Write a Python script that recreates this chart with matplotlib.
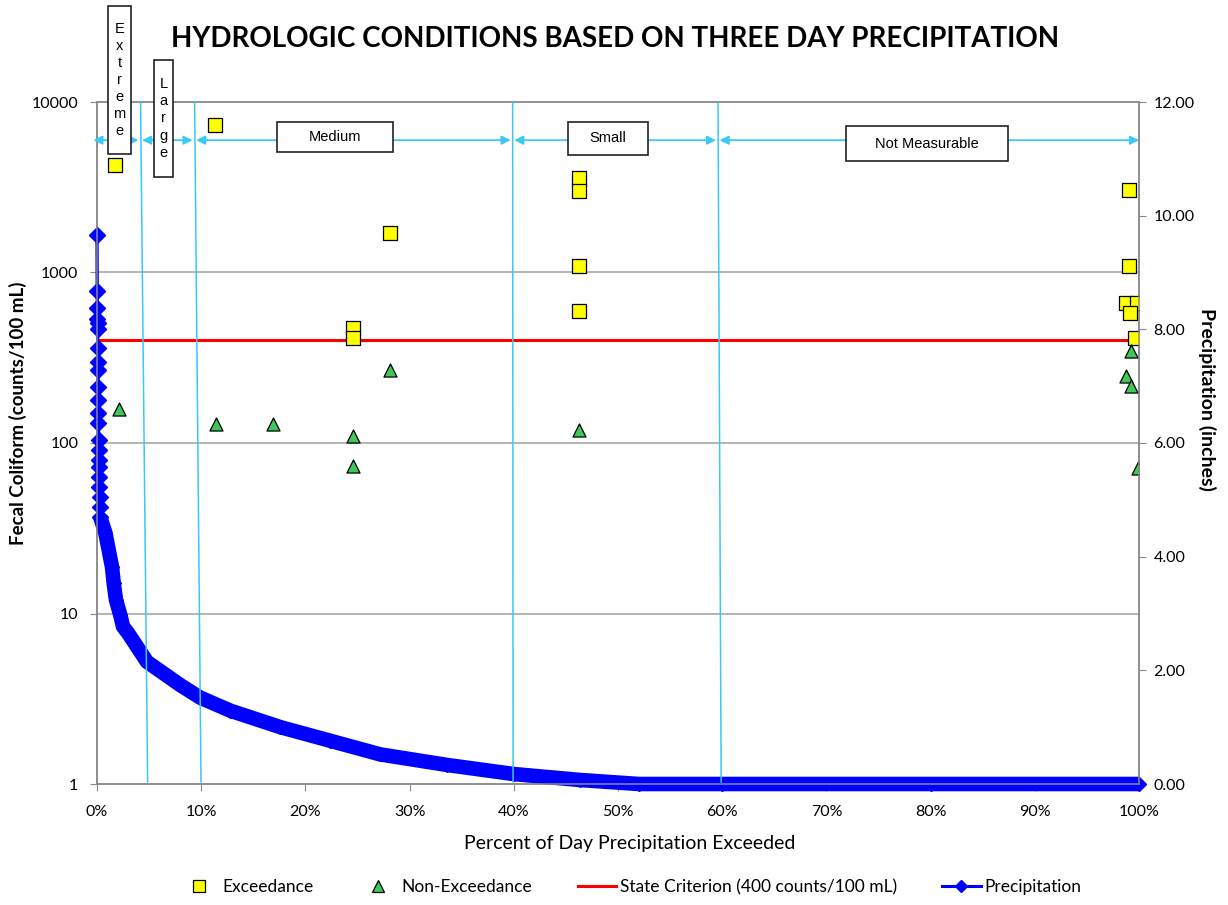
import matplotlib
matplotlib.use('Agg')
from matplotlib import pyplot as plt
from matplotlib.lines import Line2D
from matplotlib.patches import Rectangle
from matplotlib.ticker import FixedLocator, FuncFormatter, NullLocator

# ---- data ----
# Exceedance samples (fecal coliform, counts/100 mL) vs. percent exceeded
exc_pct = [1.7, 11.35, 28.1, 24.56, 24.56, 46.3, 46.3, 46.3, 46.3, 99.0, 99.0, 98.75, 99.8, 99.1, 99.6]
exc_val = [4245, 7300, 1706, 474, 414, 3570, 3006, 1092, 595, 3048, 1095, 660, 660, 581, 415]

# Non-exceedance samples
non_pct = [2.07, 11.4, 16.9, 28.1, 24.56, 24.56, 46.3, 99.2, 98.8, 99.2, 99.9]
non_val = [158, 129, 129, 268, 110, 73, 119, 348, 247, 217, 71]

criterion = 400

# three day precipitation duration curve (inches), head with distinct points
head_pct = [0.0, 0.02, 0.03, 0.04, 0.05, 0.06, 0.07, 0.08, 0.09, 0.10, 0.11,
            0.12, 0.13, 0.15, 0.16, 0.18, 0.19, 0.21, 0.23, 0.25, 0.27, 0.30]
head_in = [9.66, 8.67, 8.37, 8.19, 8.11, 8.00, 7.67, 7.43, 7.28, 6.99, 6.76,
           6.52, 6.35, 6.05, 5.88, 5.70, 5.58, 5.40, 5.23, 5.05, 4.88, 4.70]
# dense part of the curve
band_pct = [0.30, 0.8, 1.44, 1.6, 1.82, 2.24, 2.5, 3.0, 4.8, 8.0, 9.9, 12.8,
            17.6, 22.4, 27.2, 33.6, 40.0, 46.4, 52.0, 60.0, 80.0, 100.0]
band_in = [4.70, 4.42, 3.82, 3.54, 3.24, 2.97, 2.77, 2.65, 2.15, 1.74, 1.52, 1.29,
           1.00, 0.76, 0.52, 0.335, 0.175, 0.07, 0.0, 0.0, 0.0, 0.0]

# hydrologic condition boundaries (percent), top and bottom of the drawn lines
zone_top = [4.18, 9.37, 39.89, 59.6]
zone_bot = [4.86, 9.98, 39.93, 59.9]

W, H = 1228, 905
def fx(px):
    return px / W
def fy(py):
    return 1 - py / H

plt.rcParams['font.family'] = ['Lato', 'DejaVu Sans']

fig = plt.figure(figsize=(W / 100, H / 100), dpi=100)
ax = fig.add_axes([fx(97), fy(784), (1139 - 97) / W, (784 - 102) / H])
ax2 = ax.twinx()

grey = '#8a8a8a'
cyan = '#3cc8f5'
blue = '#0000ff'

ax.set_yscale('log')
ax.set_ylim(1, 10000)
ax.set_xlim(0, 100)
ax2.set_ylim(0, 12)

for v in [10, 100, 1000]:
    ax.axhline(v, color='#a0a0a0', lw=1.1, zorder=0)

ax.scatter(exc_pct, exc_val, marker='s', s=9.6 ** 2, c='#ffff00', edgecolors='black',
           linewidths=0.9, zorder=4)
ax.scatter(non_pct, non_val, marker='^', s=9.4 ** 2, c='#3cc85a', edgecolors='black',
           linewidths=0.9, zorder=4)
ax.plot([0, 100], [criterion, criterion], color='#ff0000', lw=2.2, zorder=3)

# precipitation curve on right axis
ax2.plot(band_pct, band_in, color=blue, lw=10.5, marker='D', ms=7.6,
         solid_joinstyle='round', solid_capstyle='butt', clip_on=False, zorder=2)
ax2.plot(head_pct, head_in, color=blue, lw=2.4, marker='D', ms=8.6, clip_on=False, zorder=2)

# condition boundaries and arrows
xt = ax2.get_xaxis_transform()
for t, b in zip(zone_top, zone_bot):
    ax2.plot([t, b], [1.0, 0.003], color=cyan, lw=1.1, transform=xt, zorder=5)
edges = [-0.35] + zone_top + [100]
for i in range(len(edges) - 1):
    x0 = edges[i] + (0.15 if i > 0 else 0)
    x1 = edges[i + 1] - (0.2 if i < len(edges) - 2 else 0)
    ax2.annotate('', xy=(x1, 0.944), xytext=(x0, 0.944), xycoords=xt, textcoords=xt,
                 arrowprops=dict(arrowstyle='<|-|>', color=cyan, lw=1.3,
                                 mutation_scale=13, shrinkA=0, shrinkB=0),
                 annotation_clip=False, zorder=5)

# label boxes (pixel layout)
boxes = [('E\nx\nt\nr\ne\nm\ne', 108, 6, 131, 154),
         ('L\na\nr\ng\ne', 154, 60, 173, 177),
         ('Medium', 277, 122, 393, 152),
         ('Small', 568, 122, 648, 155),
         ('Not Measurable', 846, 126, 1008, 161)]
for label, x0, y0, x1, y1 in boxes:
    fig.add_artist(Rectangle((fx(x0), fy(y1)), (x1 - x0) / W, (y1 - y0) / H,
                             transform=fig.transFigure, facecolor='white',
                             edgecolor='#222222', lw=1.2, zorder=10))
    fig.text(fx((x0 + x1) / 2), fy((y0 + y1) / 2), label, ha='center', va='center',
             family='Liberation Sans', fontsize=10.5, linespacing=1.28, zorder=11)

# axes styling
for a in (ax, ax2):
    for s in a.spines.values():
        s.set_color(grey)
        s.set_linewidth(1.1)
ax.spines['top'].set_color('#a0a0a0')

ax.xaxis.set_major_locator(FixedLocator(range(0, 101, 10)))
ax.xaxis.set_major_formatter(FuncFormatter(lambda v, p: '%d%%' % v))
ax.yaxis.set_major_locator(FixedLocator([1, 10, 100, 1000, 10000]))
ax.yaxis.set_major_formatter(FuncFormatter(lambda v, p: '%d' % v))
ax.yaxis.set_minor_locator(NullLocator())
ax2.yaxis.set_major_locator(FixedLocator(range(0, 13, 2)))
ax2.yaxis.set_major_formatter(FuncFormatter(lambda v, p: '%.2f' % v))

ax.tick_params(axis='x', length=5, color=grey, pad=10, labelsize=11.5)
ax.tick_params(axis='y', length=5, color=grey, pad=8.5, labelsize=11.5)
ax2.tick_params(axis='y', length=5, color=grey, pad=5.5, labelsize=11.5)

fig.text(fx(615), fy(39), 'HYDROLOGIC CONDITIONS BASED ON THREE DAY PRECIPITATION',
         ha='center', va='center', fontsize=20, fontweight='bold')
fig.text(fx(18), fy(413), 'Fecal Coliform (counts/100 mL)', rotation=90,
         ha='center', va='center', fontsize=13.5, fontweight='bold')
fig.text(fx(1207), fy(399), 'Precipitation (inches)', rotation=270,
         ha='center', va='center', fontsize=14, fontweight='bold')
fig.text(fx(630), fy(843), 'Percent of Day Precipitation Exceeded',
         ha='center', va='center', fontsize=14)

handles = [Line2D([], [], ls='none', marker='s', ms=9, mfc='#ffff00', mec='black', mew=0.9),
           Line2D([], [], ls='none', marker='^', ms=9, mfc='#3cc85a', mec='black', mew=0.9),
           Line2D([], [], color='#ff0000', lw=2.2),
           Line2D([], [], color=blue, lw=2.2, marker='D', ms=6)]
labels = ['Exceedance', 'Non-Exceedance', 'State Criterion (400 counts/100 mL)', 'Precipitation']
fig.legend(handles, labels, loc='center', bbox_to_anchor=(fx(631), fy(887)), ncol=4,
           frameon=False, fontsize=12.5, handlelength=2.2, handletextpad=0.25,
           columnspacing=2.6)

fig.savefig('out.png', dpi=100)
